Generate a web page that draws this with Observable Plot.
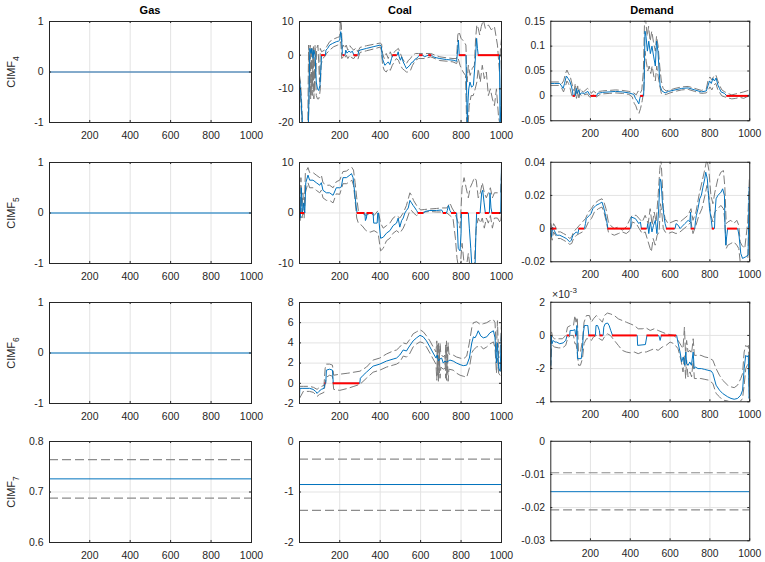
<!DOCTYPE html>
<html>
<head>
<meta charset="utf-8">
<script src="https://cdn.jsdelivr.net/npm/d3@7"></script>
<script src="https://cdn.jsdelivr.net/npm/@observablehq/plot@0.6"></script>
<style>
  html, body { margin: 0; padding: 0; background: #fff; }
  #fig { position: relative; width: 765px; height: 562px; overflow: hidden; background: #fff;
         font-family: "Liberation Sans", Arial, Helvetica, sans-serif; color: #262626; }
  .cell { position: absolute; }
  .title { position: absolute; font-weight: bold; font-size: 11px; color: #000; transform: translateX(-50%); white-space: nowrap; }
  .ylab { position: absolute; font-size: 11px; color: #262626; transform: translate(-50%, -50%) rotate(-90deg); white-space: nowrap; }
  .ylab sub { font-size: 8.5px; }
  .expo { position: absolute; font-size: 10.5px; color: #262626; white-space: nowrap; }
  .expo sup { font-size: 8px; }
</style>
</head>
<body>
<div id="fig"></div>
<script>
// ---- shared axis values ----
const columns = ["Gas", "Coal", "Demand"];
const rowLabels = ["4", "5", "6", "7"];
const xTicks = [200, 400, 600, 800, 1000];
const xDomain = [1, 1000];

// ---- Gas: constant estimates for CIMF4..6, interval for CIMF7 ----
const gasFlat = [0, 0, 0];
const cimf7Est = [0.726, -0.852, -0.0152];
const cimf7Lo = [0.688, -1.365, -0.0207];
const cimf7Hi = [0.764, -0.348, -0.0095];

// ---- Coal CIMF4 ----
const coal4Est = [[1,-7],[8,-12],[15,-20],[25,-21],[45,-21],[50,-5],[52,2],[58,0.5],[62,2],[68,-1],[72,1.5],[78,0],[84,-8],[90,-10],[96,-10.5],[102,-9],[106,-5],[110,0],[129,0],[132,1.5],[140,2],[150,3],[165,3.5],[183,4],[195,4.2],[200,4.5],[205,7],[209,5],[213,0.5],[216,0],[226,0],[230,1.5],[236,0.6],[245,1.2],[255,0.8],[262,1.2],[270,0],[290,0],[294,1.2],[300,1.5],[332,2],[365,2.5],[400,3],[406,2.5],[411,-1],[417,-2],[423,-3],[432,-2.5],[440,-2],[448,-2.8],[456,-1],[462,0],[484,0],[489,1],[494,-0.5],[500,-1.5],[506,-0.5],[514,-2],[522,-3],[530,-4],[538,-3.5],[547,-3],[555,-2.2],[563,-2],[572,-1.2],[580,-1],[586,-0.5],[595,0],[612,0],[618,-0.5],[630,-0.2],[640,0],[655,0],[662,-0.5],[680,-0.8],[695,-1],[728,-1.3],[761,-1.5],[778,-1.8],[784,2],[787,4.5],[791,0],[824,0],[828,-12],[831,-21],[834,-14],[838,-10],[844,-8],[852,-9.5],[861,-9],[866,-5],[872,0],[877,5],[881,2],[885,0],[990,0],[993,-21],[997,-15],[1000,0]];
const coal4Hi = [[1,-6],[6,-8],[10,-12],[16,-20],[30,-21],[42,-21],[46,3],[50,-10],[54,3],[58,-12],[62,2.5],[66,-8],[70,3],[74,-11],[78,3],[82,-5],[86,2],[92,3],[96,-2],[100,-8],[104,2],[110,1],[125,1.5],[135,2.5],[150,4],[170,4.8],[190,5.3],[200,5.5],[204,10.5],[208,9],[212,2],[218,3],[225,2],[232,3],[240,1.5],[250,2.8],[260,2],[270,1.5],[280,2.2],[290,1],[300,2.3],[332,2.8],[365,3.2],[400,3.6],[407,3.3],[412,0.5],[420,-1],[430,0.5],[440,-1],[450,1],[460,-0.5],[470,1],[480,1.5],[490,2],[500,0.5],[510,-1],[520,-2],[530,-2.5],[540,-1.5],[550,-1],[560,0],[575,0.5],[590,0.5],[620,0.5],[650,0.5],[695,-0.5],[730,-0.8],[760,-1],[778,-1],[784,6],[790,7],[800,5],[815,4],[824,3],[830,-8],[836,-3],[845,-6],[855,-4],[866,-3],[872,5],[878,9],[885,8],[892,6],[900,8.5],[910,10.5],[920,8],[935,9],[950,7.5],[965,8.5],[980,3],[990,-5],[995,2],[1000,5]];
const coal4Lo = [[1,-8],[8,-14],[14,-21],[44,-21],[48,-14],[52,-3],[56,-13],[60,-5],[64,-12],[68,0],[72,-13],[78,-2],[84,-12],[90,-13],[96,-13],[100,-12],[104,-10],[108,-3],[115,-1],[125,-0.5],[135,0.5],[150,1.5],[170,2.5],[190,3],[200,3.2],[205,4],[210,-1],[218,-0.5],[225,-1],[232,0],[240,-1],[250,0],[260,-0.8],[270,-1],[280,0],[290,-1.2],[300,0.8],[332,1.3],[365,1.8],[400,2.4],[406,1.5],[412,-3],[420,-4.5],[430,-5],[440,-4],[450,-4.5],[460,-3],[470,-2],[480,-1],[490,-1.5],[500,-3],[510,-4],[520,-4.5],[530,-5],[540,-5],[550,-4.5],[560,-3],[575,-1.5],[590,-1],[620,-1],[650,-0.5],[695,-1.6],[730,-1.8],[760,-2],[778,-2.5],[786,-1],[795,-3],[810,-5],[822,-6],[828,-21],[835,-21],[840,-15],[850,-12],[860,-12],[870,-10],[878,-8],[885,-4],[895,-8],[905,-3],[915,-7],[925,-5],[935,-12],[945,-10],[955,-13],[965,-15],[975,-10],[985,-18],[993,-21],[1000,-15]];
const coal4Zero = [[110,129],[216,226],[270,290],[462,484],[595,612],[640,655],[791,824],[885,990]];

// ---- Coal CIMF5 ----
const coal5Est = [[1,2],[5,-1],[10,5],[15,0],[22,2],[27,0],[32,6],[43,7.5],[51,6.5],[68,6.5],[84,6],[101,5.5],[109,6],[117,4.5],[134,4],[150,4],[167,3.5],[183,5],[200,5],[208,5.2],[216,7],[233,7],[250,7.5],[258,7.8],[266,7],[274,4],[282,1],[286,0],[324,0],[327,-1.5],[332,-1],[335,0],[365,0],[368,-2],[385,-2],[388,0],[392,0],[395,-2],[402,-5],[415,-4.8],[431,-4],[448,-3.5],[464,-2.5],[481,-2],[489,-1],[497,-2.8],[506,-1.5],[514,-1],[522,0],[530,0.5],[539,1],[547,2.5],[555,2],[563,1.5],[572,1],[580,0.5],[588,0],[616,0],[621,0.3],[646,0.5],[679,0.5],[704,0.6],[712,0],[728,0],[732,0.5],[738,1.5],[745,0.5],[753,0],[778,0],[782,-3],[786,-7],[795,-7.5],[800,-4],[802,0],[836,0],[841,-3],[848,-7],[854,-11],[869,-11],[874,-3],[877,0],[894,0],[902,4],[907,4.5],[914,2],[920,0],[940,0],[943,4],[948,1],[953,0],[996,0],[1000,10]];
const coal5Hi = [[1,7],[4,-0.5],[8,7],[13,1],[18,4],[24,0.5],[30,8],[43,9],[51,8],[68,8],[84,7.5],[101,7],[109,7.5],[117,6],[134,5.5],[150,5.5],[167,5],[183,6.2],[200,6.5],[216,8.2],[233,8.3],[250,8.8],[260,9],[268,8.5],[276,6],[284,3],[292,0.5],[310,0],[330,-0.5],[350,0],[370,-0.5],[390,0.5],[402,-2],[415,-3],[431,-2.5],[448,-2],[464,-1],[481,-0.5],[497,-1],[514,0],[530,1.5],[547,4],[555,3.5],[565,2.5],[580,1.5],[600,0.6],[620,0.7],[646,0.8],[679,0.9],[704,1],[730,1],[745,2],[755,1],[770,0],[786,-2],[795,-3],[805,5],[815,7],[825,5],[836,3],[845,5],[856,6],[866,7],[875,6.5],[885,3],[895,4],[905,6],[915,4],[925,3],[935,4],[945,5],[955,3],[965,4],[980,4],[995,4],[1000,8]];
const coal5Lo = [[1,-1],[4,-1.5],[8,1],[13,-1],[18,0],[24,-1],[30,4],[43,6],[51,5],[68,5],[84,4.5],[101,4],[109,4.5],[117,3],[134,2.5],[150,2.5],[167,2],[183,3.8],[200,3.7],[216,5.8],[233,5.8],[250,6.2],[260,6.5],[268,5.5],[276,2.5],[284,-1],[292,-2],[310,-2.5],[330,-3.5],[350,-3.8],[370,-3.5],[390,-4],[402,-7.5],[415,-7],[431,-5.5],[448,-5],[464,-4],[481,-3.5],[497,-4],[514,-3],[530,-1.5],[547,0.5],[555,0.5],[565,0],[580,-0.5],[600,0],[620,0.2],[646,0.3],[679,0.2],[704,0.2],[730,0],[745,-0.5],[760,-1],[772,-5],[780,-9],[786,-10.5],[795,-11],[805,-6],[815,-10],[825,-11],[836,-8],[845,-11],[856,-11],[866,-10],[875,-3],[885,-1],[895,-2],[905,-1],[915,-3],[925,-1],[935,-2],[945,-0.5],[955,-3],[965,-1],[980,-1],[995,-2],[1000,0]];
const coal5Zero = [[1,27],[286,324],[335,365],[588,616],[712,728],[753,778],[802,836],[877,894],[920,940],[953,996]];

// ---- Coal CIMF6 ----
const coal6Est = [[1,-1.3],[3,-0.5],[18,-0.5],[51,-0.5],[68,-0.6],[81,-0.8],[88,-1],[97,-0.8],[109,-0.6],[122,-0.5],[127,0],[131,0],[134,1.3],[150,1.4],[164,1.3],[168,0],[299,0],[302,0.5],[316,0.8],[332,1.1],[365,1.7],[398,1.9],[431,2.2],[464,2.4],[481,2.5],[497,2.8],[514,3.3],[530,3.2],[539,3.5],[563,4.2],[580,4.5],[597,4.75],[613,4.6],[629,4.2],[646,3.6],[662,3],[676,2.5],[682,2.8],[688,2.2],[695,2.4],[704,2.5],[712,2],[720,2.2],[728,2.1],[737,2.2],[745,2.3],[761,2.2],[778,2],[795,1.85],[811,1.75],[828,1.8],[841,2.5],[853,4],[861,4.6],[869,4.5],[877,4.8],[885,5.2],[897,4.7],[910,4.5],[927,4.6],[943,5],[960,5.2],[968,4.5],[975,2],[980,4],[986,1.5],[993,1.2],[1000,5]];
const coal6Hi = [[1,-0.3],[20,-0.3],[50,-0.3],[70,-0.4],[88,-0.6],[100,-0.4],[122,-0.2],[128,1.5],[134,1.9],[150,1.9],[164,1.8],[170,0.8],[200,0.9],[240,1],[270,1.1],[300,1.2],[332,1.6],[365,2.3],[398,2.5],[431,2.9],[464,3.2],[481,3.3],[497,3.6],[514,4],[530,3.9],[545,4.3],[563,4.9],[580,5.1],[597,5.3],[613,5.1],[629,4.7],[646,4.2],[662,3.6],[676,3.1],[680,4.2],[684,0.8],[688,4.1],[692,1],[696,4],[700,2.9],[712,2.6],[720,2.8],[724,0.5],[728,4.2],[732,1],[736,4],[740,2.9],[761,2.8],[778,2.6],[795,2.5],[811,2.4],[828,2.7],[841,4],[853,5.5],[861,6],[877,6.1],[897,5.8],[910,5.9],[927,6],[943,6.2],[960,6.3],[968,6],[975,3],[980,6.2],[986,2.5],[993,3],[1000,6]];
const coal6Lo = [[1,-1.5],[20,-0.8],[50,-0.8],[70,-0.9],[88,-1.3],[100,-1.1],[122,-0.9],[128,0],[134,0.6],[150,0.8],[164,0.7],[170,-0.6],[200,-0.7],[240,-0.5],[270,-0.3],[300,-0.1],[332,0.5],[365,1.1],[398,1.3],[431,1.6],[464,1.8],[481,1.9],[497,2.1],[514,2.7],[530,2.6],[545,2.9],[563,3.6],[580,3.9],[597,4.1],[613,4],[629,3.6],[646,3],[662,2.4],[676,1.9],[680,0.3],[684,3.8],[688,0.2],[692,3.5],[696,0.5],[700,1.6],[712,1.4],[720,1.5],[724,3.8],[728,0.3],[732,3.6],[736,0.2],[740,1.4],[761,1.3],[778,1],[795,0.8],[811,0.7],[828,0.6],[841,1.5],[853,3],[861,3.3],[877,3.6],[897,3.7],[910,3.4],[927,3.6],[943,3.9],[960,4.1],[968,3.5],[975,1],[980,2.5],[986,1],[993,0.8],[1000,3]];
const coal6Zero = [[127,131],[168,299]];

// ---- Demand CIMF4 ----
const demand4Est = [[1,0.025],[20,0.025],[46,0.025],[55,0.02],[63,0.015],[70,0.025],[79,0.04],[88,0.035],[96,0.03],[104,0.02],[110,0.01],[113,0],[124,0],[129,0.015],[134,0.005],[140,0.012],[148,0.003],[154,0.006],[170,0.005],[187,0.009],[195,0.003],[203,0],[231,0],[236,0.005],[261,0.007],[294,0.008],[327,0.009],[360,0.008],[393,0.006],[418,0.003],[426,-0.005],[435,-0.01],[443,-0.016],[448,-0.005],[452,0],[467,0],[470,0.03],[474,0.13],[479,0.12],[486,0.09],[493,0.11],[501,0.085],[509,0.1],[517,0.08],[526,0.06],[532,0.11],[539,0.09],[545,0.05],[550,0.02],[559,0.01],[575,0.006],[592,0.009],[625,0.012],[658,0.015],[691,0.016],[724,0.012],[757,0.008],[782,0.01],[790,0.02],[798,0.03],[807,0.025],[815,0.035],[823,0.03],[831,0.036],[840,0.022],[848,0.015],[856,0.008],[873,0.005],[885,0],[995,0],[1000,0.005]];
const demand4Hi = [[1,0.028],[40,0.028],[55,0.024],[65,0.03],[75,0.045],[82,0.052],[90,0.045],[98,0.04],[104,0.03],[110,0.02],[118,0.01],[124,0.025],[130,0.005],[136,0.02],[142,0],[148,0.015],[156,0.01],[165,0.008],[185,0.015],[195,0.012],[205,0.005],[215,0.01],[230,0.005],[245,0.009],[261,0.01],[294,0.011],[327,0.012],[360,0.011],[393,0.009],[418,0.006],[430,0.002],[440,0.01],[450,0.005],[458,0.012],[466,0.05],[472,0.155],[478,0.15],[485,0.12],[492,0.14],[500,0.11],[508,0.13],[516,0.11],[526,0.09],[532,0.12],[540,0.1],[548,0.06],[556,0.03],[565,0.015],[580,0.01],[600,0.012],[625,0.015],[658,0.018],[691,0.019],[724,0.015],[757,0.011],[782,0.014],[790,0.03],[800,0.038],[810,0.032],[820,0.04],[830,0.042],[840,0.03],[850,0.02],[860,0.012],[875,0.008],[890,0.005],[910,0.002],[930,0.004],[950,0.006],[970,0.008],[985,0.01],[1000,0.012]];
const demand4Lo = [[1,0.021],[40,0.021],[55,0.016],[65,0.008],[75,0.02],[82,0.03],[90,0.025],[98,0.015],[104,0.005],[110,-0.003],[118,-0.002],[124,0.01],[130,-0.005],[136,0.008],[142,-0.004],[148,0.004],[156,0],[165,0.002],[185,0.004],[195,-0.002],[205,-0.003],[215,0.002],[230,-0.002],[245,0.002],[261,0.004],[294,0.005],[327,0.006],[360,0.005],[393,0.003],[410,-0.002],[420,-0.015],[428,-0.02],[436,-0.03],[444,-0.035],[452,-0.025],[460,-0.01],[468,0.01],[474,0.09],[480,0.07],[488,0.05],[495,0.06],[503,0.045],[510,0.06],[518,0.04],[526,0.03],[533,0.06],[540,0.04],[548,0.02],[556,0.005],[565,0.003],[580,0.003],[600,0.006],[625,0.009],[658,0.012],[691,0.013],[724,0.009],[757,0.005],[782,0.006],[790,0.01],[800,0.018],[810,0.012],[820,0.022],[830,0.025],[840,0.012],[850,0.006],[860,0],[875,-0.002],[890,-0.004],[910,-0.006],[930,-0.005],[950,-0.003],[970,-0.005],[985,-0.002],[1000,0]];
const demand4Zero = [[113,124],[203,231],[452,467],[885,995]];

// ---- Demand CIMF5 ----
const demand5Est = [[1,0],[5,-0.005],[10,0.001],[18,-0.001],[30,-0.004],[46,-0.004],[63,-0.005],[79,-0.006],[96,-0.008],[104,-0.007],[112,-0.004],[129,-0.002],[137,-0.003],[142,0],[170,0],[175,0.003],[179,0.006],[195,0.008],[203,0.009],[212,0.012],[228,0.014],[245,0.015],[258,0.016],[266,0.013],[274,0.009],[281,0.005],[288,0],[402,0],[405,0.007],[426,0.006],[443,0.003],[451,0.004],[456,0],[484,0],[488,0.003],[493,-0.003],[501,0.004],[509,-0.002],[517,0.002],[526,0.005],[534,-0.003],[542,0.01],[550,0.03],[555,0.028],[562,0.015],[569,0.008],[575,0.003],[582,0],[625,0],[630,0.003],[641,0.002],[650,0],[658,0.001],[674,0.003],[691,0.005],[699,0.004],[703,0.01],[706,0],[724,0],[728,0.005],[732,0.008],[740,0.012],[749,0.018],[757,0.02],[765,0.025],[774,0.03],[779,0.034],[787,0.03],[793,0.02],[798,0.012],[807,0.005],[812,0],[823,0],[826,0.01],[831,0.018],[840,0.02],[856,0.022],[864,0.024],[873,0.02],[876,0],[880,-0.01],[884,-0.005],[889,0],[939,0],[943,-0.002],[947,-0.005],[955,-0.015],[964,-0.018],[980,-0.017],[992,-0.016],[997,0.025],[1000,0.024]];
const demand5Hi = [[1,0.003],[8,-0.001],[15,0.003],[25,0.001],[35,-0.002],[50,-0.002],[65,-0.003],[80,-0.004],[96,-0.006],[106,-0.005],[115,-0.002],[130,0],[145,0.002],[160,0.004],[175,0.006],[190,0.01],[205,0.012],[220,0.015],[240,0.017],[258,0.018],[268,0.016],[278,0.012],[290,0.004],[300,0.002],[320,0],[340,0.001],[360,-0.001],[380,0.001],[400,0.006],[410,0.008],[430,0.008],[445,0.006],[460,0.004],[475,0.008],[490,0.003],[500,0.012],[510,0.002],[520,0.01],[530,0.004],[540,0.02],[548,0.035],[554,0.042],[560,0.03],[566,0.012],[575,0.006],[590,0.003],[610,0.004],[630,0.005],[650,0.004],[670,0.006],[690,0.008],[705,0.012],[715,0.005],[730,0.01],[745,0.02],[760,0.028],[775,0.036],[785,0.042],[795,0.035],[805,0.02],[815,0.015],[825,0.022],[840,0.03],[855,0.034],[868,0.035],[875,0.025],[882,0.003],[890,0.004],[905,0.005],[920,0.003],[935,0.005],[945,0.002],[952,-0.008],[960,-0.01],[975,-0.012],[990,0.004],[998,0.03]];
const demand5Lo = [[1,-0.003],[8,-0.007],[15,-0.002],[25,-0.004],[35,-0.006],[50,-0.006],[65,-0.007],[80,-0.008],[96,-0.0095],[106,-0.009],[115,-0.006],[130,-0.004],[145,-0.003],[160,-0.002],[175,0],[190,0.004],[205,0.006],[220,0.01],[240,0.012],[258,0.013],[268,0.01],[278,0.005],[290,-0.002],[300,-0.003],[320,-0.004],[340,-0.003],[360,-0.002],[380,-0.003],[400,-0.001],[410,0.004],[430,0.003],[445,0],[460,-0.003],[475,-0.002],[490,-0.008],[500,-0.012],[506,-0.014],[515,-0.006],[525,-0.01],[535,-0.004],[545,-0.002],[552,0.015],[558,0.01],[566,0],[575,-0.002],[590,-0.003],[610,-0.002],[630,-0.003],[650,-0.002],[670,0],[690,0.002],[705,0.004],[715,-0.003],[730,0.002],[745,0.008],[760,0.012],[775,0.02],[785,0.026],[795,0.02],[805,0.008],[815,0.004],[825,0.01],[840,0.012],[855,0.014],[868,0.012],[875,0.005],[882,-0.012],[890,-0.01],[905,-0.009],[920,-0.008],[935,-0.01],[945,-0.012],[952,-0.02],[960,-0.022],[975,-0.022],[990,-0.02],[998,0.015]];
const demand5Zero = [[1,30],[142,170],[288,402],[456,484],[582,625],[706,724],[812,823],[889,939]];

// ---- Demand CIMF6 (values in units of 1e-3) ----
const demand6Est = [[1,-1.8],[3,0],[7,-0.5],[13,-0.3],[21,-0.4],[30,-0.4],[46,-0.5],[63,-0.45],[76,-0.3],[83,0],[96,0],[98,0.3],[112,0.3],[122,0.35],[126,0],[130,0],[132,0.6],[135,-1.4],[154,-1.4],[160,-0.8],[165,0.2],[170,0.6],[179,0.6],[187,0.6],[192,0],[225,0],[228,0.6],[236,0.6],[245,0.3],[248,0],[264,0],[267,0.5],[274,0.7],[286,0.75],[294,0.6],[302,0.3],[311,0],[435,0],[437,-0.6],[476,-0.55],[484,0],[542,0],[546,-0.1],[550,-0.3],[556,0],[633,0],[641,-0.5],[650,-1],[658,-1.6],[666,-1.3],[674,-1.8],[679,-1],[683,-1.7],[691,-1.8],[699,-1.6],[707,-1.8],[716,-1],[721,-2],[727,-1.9],[740,-2],[757,-2],[774,-2.05],[790,-2.1],[807,-2.15],[815,-2.3],[831,-3],[848,-3.3],[864,-3.5],[889,-3.7],[906,-3.8],[922,-3.85],[939,-3.8],[955,-3.6],[964,-3.3],[972,-2],[980,-1.2],[988,-1.3],[993,-1.2],[997,-3.8],[1000,-3.5]];
const demand6Hi = [[1,-0.5],[5,0.2],[10,-0.1],[20,-0.2],[40,-0.2],[60,-0.2],[76,0],[85,0.5],[100,0.6],[115,0.6],[122,1.2],[128,0.8],[134,1.1],[140,-1],[150,-1],[160,-0.3],[168,0.8],[180,1.2],[195,1.2],[205,0.8],[215,1],[230,1.2],[245,1],[260,0.8],[270,1.2],[285,1.35],[300,1.3],[320,1.2],[340,1],[360,0.9],[380,0.8],[400,0.7],[420,0.6],[440,0.4],[460,0.4],[480,0.45],[500,0.3],[520,0.4],[540,0.3],[560,0.2],[580,0.1],[600,0.05],[620,0],[640,-0.3],[655,-0.6],[665,-0.8],[672,0.5],[678,-1.2],[683,-0.3],[690,-1],[700,-0.9],[708,-1.1],[716,-0.2],[722,-1.2],[735,-1.2],[755,-1.2],[775,-1.3],[795,-1.35],[815,-1.5],[831,-2],[848,-2.4],[864,-2.7],[889,-3],[906,-3.1],[922,-3.15],[939,-3],[955,-2.6],[964,-2.3],[972,-1],[980,-0.6],[988,-0.7],[993,-0.6],[1000,-2.5]];
const demand6Lo = [[1,-2],[5,-0.7],[10,-0.6],[20,-0.7],[40,-0.75],[60,-0.75],[76,-0.6],[85,-0.2],[100,0],[115,0],[122,-0.5],[128,-0.5],[134,-1],[140,-1.8],[150,-1.8],[160,-1.4],[168,-0.5],[180,-0.2],[195,-0.2],[205,-0.3],[215,-0.1],[230,0],[245,-0.2],[260,-0.3],[270,-0.1],[285,0.1],[300,0],[320,-0.3],[340,-0.6],[360,-0.9],[380,-1],[400,-1.05],[420,-1],[440,-1.1],[460,-1],[480,-1],[500,-0.9],[520,-0.8],[540,-0.9],[560,-0.7],[580,-0.6],[600,-0.4],[620,-0.5],[640,-0.8],[655,-1.5],[665,-2.2],[672,-1.2],[678,-2.6],[683,-1.5],[690,-2.5],[700,-2.2],[708,-2.5],[716,-1.5],[722,-2.6],[735,-2.6],[755,-2.6],[775,-2.65],[795,-2.7],[815,-2.9],[831,-3.5],[848,-3.7],[864,-3.9],[889,-3.95],[906,-4.05],[922,-4.1],[939,-4.05],[955,-3.95],[964,-3.8],[972,-3],[980,-2],[988,-1.8],[993,-1.7],[1000,-4]];
const demand6Zero = [[83,96],[126,130],[192,225],[248,264],[311,435],[484,542],[556,633]];

// ---- layout of the 4 x 3 grid of axes (plot-area boxes) ----
const colX = [49, 299, 551];
const rowY = [21, 162, 302, 441];
const boxW = 202, boxH = 101;
const ML = 46, MR = 16, MT = 14, MB = 24;

const BLUE = "#0072bd", GRAY = "#7a7a7a", RED = "#ff0000", AX = "#262626", GRID = "#e3e3e3";
const fmt = d => String(d);
const xy = {x: d => d[0], y: d => d[1]};

function panel({yDomain, yTicks, est, lo, hi, zero, flat, flatColor, band}) {
  const [y0, y1] = yDomain;
  const tickLenY = (y1 - y0) * 0.02;
  const tickLenX = (xDomain[1] - xDomain[0]) * 0.01;
  const marks = [
    Plot.ruleX(xTicks, {stroke: GRID, strokeWidth: 1}),
    Plot.ruleY(yTicks, {stroke: GRID, strokeWidth: 1}),
    Plot.axisX(xTicks, {anchor: "bottom", tickSize: 0, tickPadding: 9, tickFormat: fmt, label: null, fill: AX}),
    Plot.axisY(yTicks, {anchor: "left", tickSize: 0, tickPadding: 6, tickFormat: fmt, label: null, fill: AX}),
  ];
  if (band) {
    marks.push(Plot.ruleY([band.lo, band.hi], {stroke: "#8c8c8c", strokeWidth: 1.2, strokeDasharray: "9,4"}));
    marks.push(Plot.ruleY([band.est], {stroke: BLUE, strokeWidth: 1}));
  }
  if (flat !== undefined) {
    marks.push(Plot.ruleY([flat], {stroke: flatColor || BLUE, strokeWidth: 1}));
  }
  if (lo) marks.push(Plot.line(lo, {...xy, stroke: GRAY, strokeWidth: 1, strokeDasharray: "8,4", clip: true}));
  if (hi) marks.push(Plot.line(hi, {...xy, stroke: GRAY, strokeWidth: 1, strokeDasharray: "8,4", clip: true}));
  if (est) marks.push(Plot.line(est, {...xy, stroke: BLUE, strokeWidth: 1, clip: true}));
  if (zero) marks.push(Plot.ruleY(zero, {y: 0, x1: d => d[0], x2: d => d[1], stroke: RED, strokeWidth: 2}));
  // inward tick marks on all four sides of the box
  marks.push(Plot.ruleX(xTicks, {y1: y0, y2: y0 + tickLenY, stroke: AX}));
  marks.push(Plot.ruleX(xTicks, {y1: y1, y2: y1 - tickLenY, stroke: AX}));
  marks.push(Plot.ruleY(yTicks, {x1: xDomain[0], x2: xDomain[0] + tickLenX, stroke: AX}));
  marks.push(Plot.ruleY(yTicks, {x1: xDomain[1], x2: xDomain[1] - tickLenX, stroke: AX}));
  marks.push(Plot.frame({stroke: AX, strokeWidth: 1}));
  return Plot.plot({
    width: boxW + ML + MR, height: boxH + MT + MB,
    marginLeft: ML, marginRight: MR, marginTop: MT, marginBottom: MB,
    x: {domain: xDomain},
    y: {domain: yDomain},
    style: {background: "transparent", overflow: "visible", fontFamily: "'Liberation Sans', Arial, Helvetica, sans-serif", fontSize: "10.5px", color: AX},
    marks
  });
}

const specs = [
  // row CIMF4
  [{yDomain: [-1, 1], yTicks: [-1, 0, 1], flat: gasFlat[0], flatColor: "#1664a6"},
   {yDomain: [-20, 10], yTicks: [-20, -10, 0, 10], est: coal4Est, lo: coal4Lo, hi: coal4Hi, zero: coal4Zero},
   {yDomain: [-0.05, 0.15], yTicks: [-0.05, 0, 0.05, 0.1, 0.15], est: demand4Est, lo: demand4Lo, hi: demand4Hi, zero: demand4Zero}],
  // row CIMF5
  [{yDomain: [-1, 1], yTicks: [-1, 0, 1], flat: gasFlat[1]},
   {yDomain: [-10, 10], yTicks: [-10, 0, 10], est: coal5Est, lo: coal5Lo, hi: coal5Hi, zero: coal5Zero},
   {yDomain: [-0.02, 0.04], yTicks: [-0.02, 0, 0.02, 0.04], est: demand5Est, lo: demand5Lo, hi: demand5Hi, zero: demand5Zero}],
  // row CIMF6
  [{yDomain: [-1, 1], yTicks: [-1, 0, 1], flat: gasFlat[2]},
   {yDomain: [-2, 8], yTicks: [-2, 0, 2, 4, 6, 8], est: coal6Est, lo: coal6Lo, hi: coal6Hi, zero: coal6Zero},
   {yDomain: [-4, 2], yTicks: [-4, -2, 0, 2], est: demand6Est, lo: demand6Lo, hi: demand6Hi, zero: demand6Zero}],
  // row CIMF7
  [{yDomain: [0.6, 0.8], yTicks: [0.6, 0.7, 0.8], band: {est: cimf7Est[0], lo: cimf7Lo[0], hi: cimf7Hi[0]}},
   {yDomain: [-2, 0], yTicks: [-2, -1, 0], band: {est: cimf7Est[1], lo: cimf7Lo[1], hi: cimf7Hi[1]}},
   {yDomain: [-0.03, 0], yTicks: [-0.03, -0.02, -0.01, 0], band: {est: cimf7Est[2], lo: cimf7Lo[2], hi: cimf7Hi[2]}}]
];

const fig = document.getElementById("fig");
specs.forEach((row, r) => {
  row.forEach((spec, c) => {
    const holder = document.createElement("div");
    holder.className = "cell";
    holder.style.left = (colX[c] - ML) + "px";
    holder.style.top = (rowY[r] - MT) + "px";
    holder.appendChild(panel(spec));
    fig.appendChild(holder);
  });
  const lab = document.createElement("div");
  lab.className = "ylab";
  lab.style.left = "13px";
  lab.style.top = (rowY[r] + boxH / 2) + "px";
  lab.innerHTML = "CIMF<sub>" + rowLabels[r] + "</sub>";
  fig.appendChild(lab);
});

columns.forEach((name, c) => {
  const t = document.createElement("div");
  t.className = "title";
  t.style.left = (colX[c] + boxW / 2) + "px";
  t.style.top = "4px";
  t.textContent = name;
  fig.appendChild(t);
});

// exponent note for the Demand CIMF6 axis
const expo = document.createElement("div");
expo.className = "expo";
expo.style.left = (colX[2] + 1) + "px";
expo.style.top = (rowY[2] - 16) + "px";
expo.innerHTML = "\u00d710<sup>-3</sup>";
fig.appendChild(expo);
</script>
</body>
</html>
